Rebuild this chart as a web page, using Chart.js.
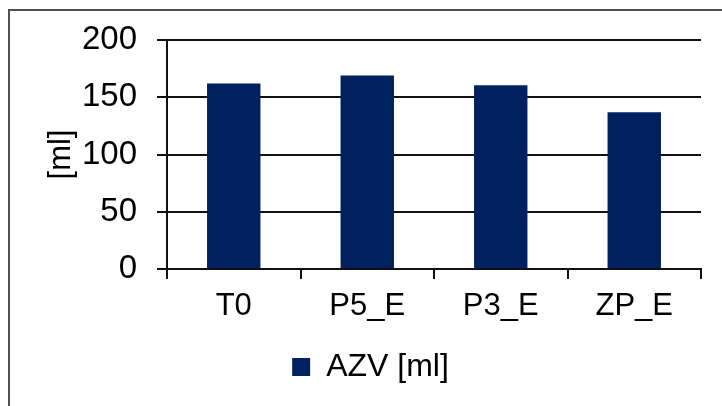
<!DOCTYPE html>
<html>
<head>
<meta charset="utf-8">
<script src="https://cdn.jsdelivr.net/npm/chart.js@4/dist/chart.umd.min.js"></script>
<style>
  html, body { margin:0; padding:0; background:#fff; overflow:hidden }
  #wrap { position:relative; width:722px; height:406px }
  #frame { position:absolute; left:8px; top:9px; width:800px; height:500px; border:2px solid #505050; box-sizing:border-box }
  #c { position:absolute; left:0; top:0 }
</style>
</head>
<body>
<div id="wrap">
  <div id="frame"></div>
  <canvas id="c" width="722" height="406"></canvas>
</div>
<script>
// data
const categories = ['T0', 'P5_E', 'P3_E', 'ZP_E']
const azvValues = [162, 169, 160.5, 137]
const seriesLabel = 'AZV [ml]'
const yTicks = [0, 50, 100, 150, 200]

const font = 'Liberation Sans, Arial, sans-serif'
const ctx = document.getElementById('c').getContext('2d')

new Chart(ctx, {
  type: 'bar',
  data: {
    labels: categories,
    datasets: [{
      label: seriesLabel,
      data: azvValues,
      backgroundColor: '#002060',
      borderWidth: 0,
      barPercentage: 0.4,
      categoryPercentage: 1.0
    }]
  },
  options: {
    responsive: false,
    animation: false,
    // left padding only pushes the legend over; y axis width compensates
    layout: { padding: { top: 40, right: 21, left: 40, bottom: 13 } },
    plugins: {
      tooltip: { enabled: false },
      legend: {
        position: 'bottom',
        labels: {
          color: '#000',
          font: { family: font, size: 32 },
          boxWidth: 18, boxHeight: 18,
          padding: 10
        }
      }
    },
    scales: {
      x: {
        afterFit: s => { s.height = 72 },
        grid: { display: true, drawOnChartArea: false, drawTicks: true, tickLength: 10, color: '#111', lineWidth: 2, offset: true },
        border: { display: true, color: '#111', width: 2 },
        ticks: { color: '#000', font: { family: font, size: 31 }, padding: 9, maxRotation: 0 }
      },
      y: {
        min: yTicks[0], max: yTicks[yTicks.length - 1],
        afterFit: s => { s.width = 127 },
        afterBuildTicks: s => { s.ticks = yTicks.map(v => ({ value: v })) },
        grid: { color: '#111', lineWidth: 2, tickLength: 10 },
        border: { display: true, color: '#111', width: 2 },
        ticks: { color: '#000', font: { family: font, size: 33 }, padding: 20 },
        title: { display: true, text: '[ml]', color: '#000', font: { family: font, size: 31 }, padding: { top: 3, bottom: 0 } }
      }
    }
  }
})
</script>
</body>
</html>
